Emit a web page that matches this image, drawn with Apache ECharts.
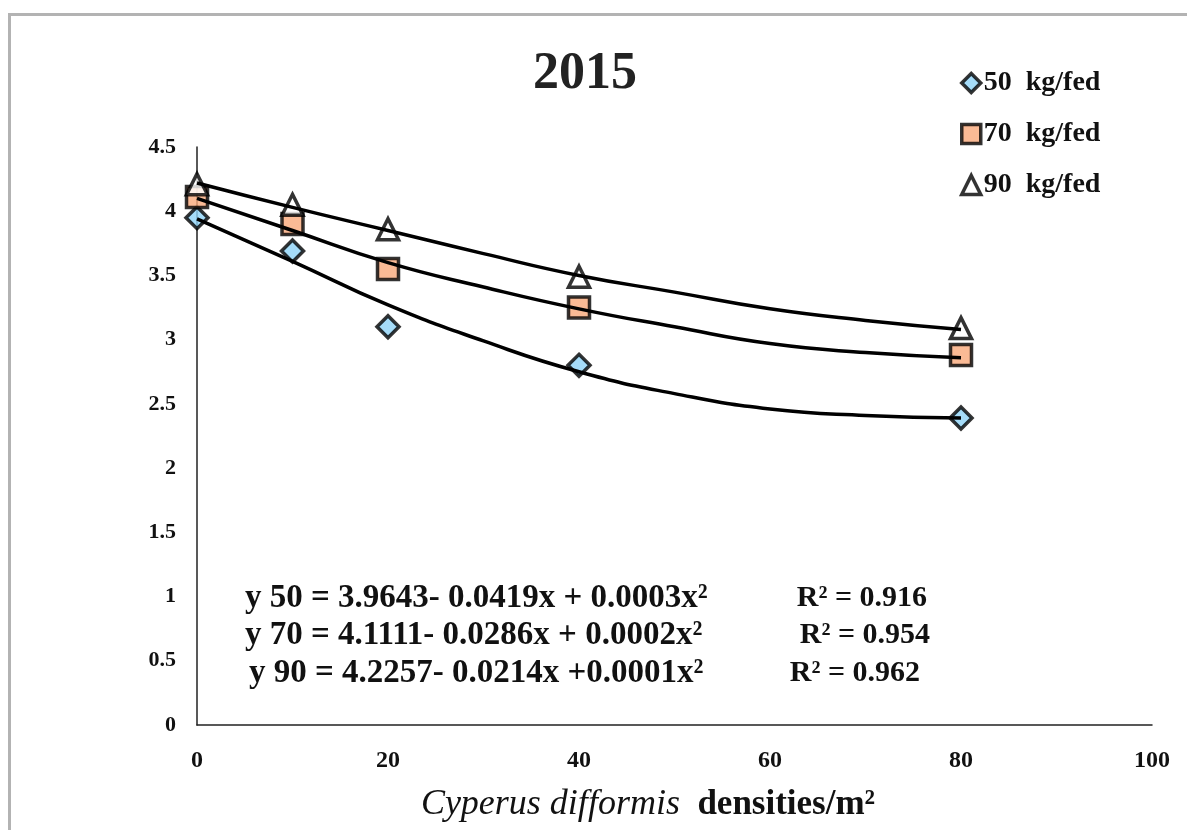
<!DOCTYPE html>
<html>
<head>
<meta charset="utf-8">
<script src="https://cdn.jsdelivr.net/npm/echarts@6/dist/echarts.min.js"></script>
<style>
  html, body { margin: 0; padding: 0; background: #fff; }
  #chart { width: 1187px; height: 830px; }
</style>
</head>
<body>
<div id="chart"></div>
<script>
// observed points
const densities = [0, 10, 20, 40, 80];
const yield50 = [3.95, 3.69, 3.10, 2.80, 2.39];
const yield70 = [4.11, 3.90, 3.55, 3.25, 2.88];
const yield90 = [4.21, 4.05, 3.86, 3.49, 3.09];

// trend lines
const trendX = [0, 10, 20, 30, 40, 50, 60, 70, 80];
const trend50 = [3.94, 3.61, 3.27, 2.99, 2.75, 2.58, 2.46, 2.41, 2.39];
const trend70 = [4.10, 3.85, 3.60, 3.41, 3.24, 3.10, 2.97, 2.90, 2.86];
const trend90 = [4.22, 4.03, 3.85, 3.67, 3.50, 3.37, 3.24, 3.15, 3.08];

const legendNames = ["50  kg/fed", "70  kg/fed", "90  kg/fed"];
const equations = [
  "y 50 = 3.9643- 0.0419x + 0.0003x²",
  "y 70 = 4.1111- 0.0286x + 0.0002x²",
  "y 90 = 4.2257- 0.0214x +0.0001x²",
];
const rSquared = ["R² = 0.916", "R² = 0.954", "R² = 0.962"];

const serif = "Liberation Serif";
const pair = (xs, ys) => xs.map((x, i) => [x, ys[i]]);

const trendLine = (ys) => ({
  type: "line",
  data: pair(trendX, ys),
  smooth: 0.5,
  showSymbol: false,
  silent: true,
  lineStyle: { color: "#000", width: 3.5 },
  z: 4,
});

const points = (name, ys, symbol, size, fill) => ({
  name: name,
  type: "scatter",
  data: pair(densities, ys),
  symbol: symbol,
  symbolSize: size,
  itemStyle: { color: fill, borderColor: "#000", borderWidth: 3.5 },
  z: 3,
});

const option = {
  backgroundColor: "#fff",
  animation: false,
  title: {
    text: "2015",
    left: 580,
    top: 44,
    textAlign: "center",
    textStyle: { fontFamily: serif, fontSize: 52, fontWeight: "bold", color: "#222" },
  },
  legend: {
    data: legendNames,
    orient: "vertical",
    left: 955,
    top: 64,
    itemGap: 23,
    itemWidth: 19,
    itemHeight: 19,
    itemStyle: { borderWidth: 3.5 },
    textStyle: { fontFamily: serif, fontSize: 28, fontWeight: "bold", color: "#111", padding: [0, 0, 0, -2] },
  },
  grid: { left: 197, top: 147, right: 35, bottom: 105 },
  xAxis: {
    type: "value",
    min: 0,
    max: 100,
    interval: 20,
    splitLine: { show: false },
    axisTick: { show: false },
    axisLine: { lineStyle: { color: "#222", width: 1.5 } },
    axisLabel: { fontFamily: serif, fontSize: 24, fontWeight: "bold", color: "#111", margin: 24 },
  },
  yAxis: {
    type: "value",
    min: 0,
    max: 4.5,
    interval: 0.5,
    splitLine: { show: false },
    axisTick: { show: false },
    axisLine: { show: true, lineStyle: { color: "#222", width: 1.5 } },
    axisLabel: { fontFamily: serif, fontSize: 22, fontWeight: "bold", color: "#111", margin: 21 },
  },
  graphic: [
    {
      type: "rect",
      shape: { x: 9.5, y: 14.5, width: 1300, height: 900 },
      style: { fill: "none", stroke: "#b3b3b3", lineWidth: 3 },
      silent: true,
    },
    {
      type: "text",
      x: 648,
      y: 805,
      style: {
        text: "{it|Cyperus difformis}{rg|  densities/m²}",
        align: "center",
        verticalAlign: "middle",
        rich: {
          it: { fontFamily: serif, fontSize: 36, fontStyle: "italic", fill: "#111" },
          rg: { fontFamily: serif, fontSize: 35, fontWeight: "bold", fill: "#111" },
        },
      },
    },
    ...equations.map((t, i) => ({
      type: "text",
      x: i === 2 ? 249 : 245,
      y: 598 + i * 37.5,
      style: { text: t, fontFamily: serif, fontSize: 33, fontWeight: "bold", fill: "#111", verticalAlign: "middle" },
    })),
    ...rSquared.map((t, i) => ({
      type: "text",
      x: [927, 930, 920][i],
      y: 598 + i * 37.5,
      style: { text: t, fontFamily: serif, fontSize: 30, fontWeight: "bold", fill: "#111", align: "right", verticalAlign: "middle" },
    })),
  ],
  series: [
    trendLine(trend50),
    trendLine(trend70),
    trendLine(trend90),
    points(legendNames[0], yield50, "diamond", 22, "#8fd3f7"),
    points(legendNames[1], yield70, "rect", 21, "#f9a97a"),
    points(legendNames[2], yield90, "triangle", 21, "#fff"),
  ],
};

const chart = echarts.init(document.getElementById("chart"));
chart.setOption(option);
</script>
</body>
</html>
